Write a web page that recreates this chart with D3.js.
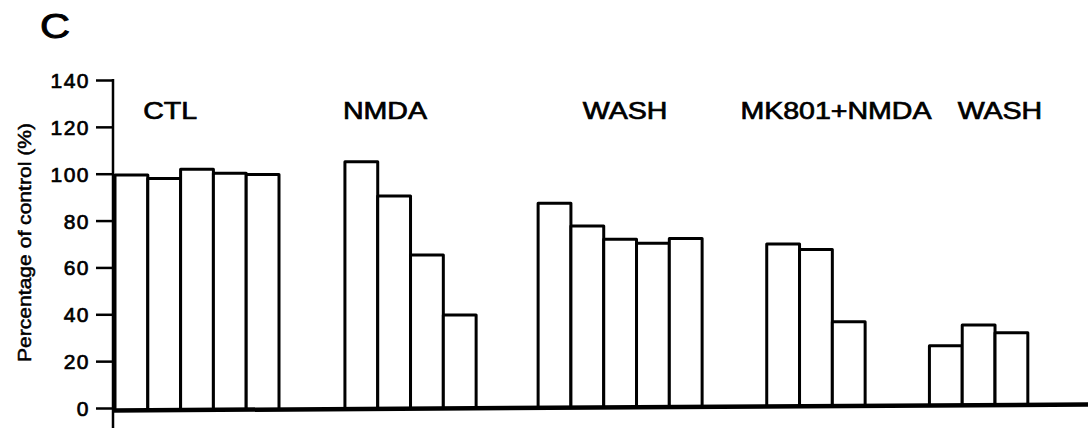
<!DOCTYPE html>
<meta charset="utf-8">
<style>
body { margin: 0; background: #fff; }
svg { display: block; }
text { font-family: "Liberation Sans", Arial, Helvetica, sans-serif; fill: #000; }
.bar { fill: #fff; stroke: #000; stroke-width: 3; stroke-linejoin: round; }
.axis text { font-size: 21px; letter-spacing: 1.5px; stroke: #000; stroke-width: 0.7; }
.axis line { stroke: #000; stroke-width: 2.5; }
</style>
<head>
  <script src="https://d3js.org/d3.v7.min.js"></script>
</head>
<svg width="1088" height="429"></svg>
<script>

// data (percentage of control)
var groups = ["CTL", "NMDA", "WASH", "MK801+NMDA", "WASH"];
var ctlValues = [99.4, 98, 101.9, 100.2, 99.7];
var nmdaValues = [105.1, 90.5, 65.3, 39.7];
var washValues = [87.4, 77.7, 72, 70.3, 72.3];
var mk801Values = [70, 67.7, 36.8];
var wash2Values = [26.6, 35.4, 32.1];
var yTicks = [0, 20, 40, 60, 80, 100, 120, 140];
var yTitle = "Percentage of control (%)";
var panelLabel = "C";

var seriesValues = [ctlValues, nmdaValues, washValues, mk801Values, wash2Values];

// layout (slot units = one bar width)
var groupStart = [0, 7.01, 12.9, 19.87, 24.83];
var labelCenter = [1.68, 8.23, 15.55, 21.98, 26.98];

var svg = d3.select("svg");

var x = d3.scaleLinear().domain([0, 30]).range([115, 115 + 30 * 32.8]);
var y = d3.scaleLinear().domain([0, 140]).range([408, 80]);

// baseline is slightly tilted in the scan
function baseY(px) { return 410.5 - (px - 113) * (6 / 975); }

var bars = [];
seriesValues.forEach(function(vals, gi) {
  vals.forEach(function(v, i) {
    bars.push({group: gi, idx: i, value: v});
  });
});

// y axis
var axis = svg.append("g")
    .attr("class", "axis")
    .attr("transform", "translate(113,0)")
    .call(d3.axisLeft(y).tickValues(yTicks).tickSize(17).tickPadding(6));
axis.select(".domain").remove();
axis.selectAll(".tick text").attr("dy", "0.36em");

svg.append("line")
    .attr("x1", 113).attr("x2", 113)
    .attr("y1", y(140) - 1).attr("y2", 428)
    .attr("stroke", "#000").attr("stroke-width", 2.5);

// bars
svg.selectAll(".bar")
  .data(bars)
  .enter().append("path")
    .attr("class", "bar")
    .attr("d", function(d) {
      var x0 = x(groupStart[d.group] + d.idx),
          x1 = x(groupStart[d.group] + d.idx + 1),
          top = y(d.value);
      return "M" + x0 + "," + baseY(x0) + "V" + top + "H" + x1 + "V" + baseY(x1);
    });

// thick baseline
svg.append("line")
    .attr("x1", 113).attr("x2", 1088)
    .attr("y1", baseY(113)).attr("y2", baseY(1088))
    .attr("stroke", "#000").attr("stroke-width", 4.5);

// group labels
svg.selectAll(".glabel")
  .data(groups)
  .enter().append("g")
    .attr("class", "glabel")
    .attr("transform", function(d, i) { return "translate(" + x(labelCenter[i]) + ",119) scale(1.19,1)"; })
  .append("text")
    .attr("text-anchor", "middle")
    .style("font-size", "24px")
    .style("stroke", "#000")
    .style("stroke-width", "0.7")
    .text(function(d) { return d; });

// y axis title
svg.append("g")
    .attr("transform", "translate(31,242.5) rotate(-90)")
  .append("text")
    .attr("text-anchor", "middle")
    .attr("textLength", 239)
    .attr("lengthAdjust", "spacingAndGlyphs")
    .style("font-size", "18px")
    .style("stroke", "#000")
    .style("stroke-width", "0.5")
    .text(yTitle);

// panel letter
svg.append("g")
    .attr("transform", "translate(55,38) scale(1.19,1)")
  .append("text")
    .attr("text-anchor", "middle")
    .style("font-size", "35px")
    .style("stroke", "#000")
    .style("stroke-width", "0.9")
    .text(panelLabel);

</script>
